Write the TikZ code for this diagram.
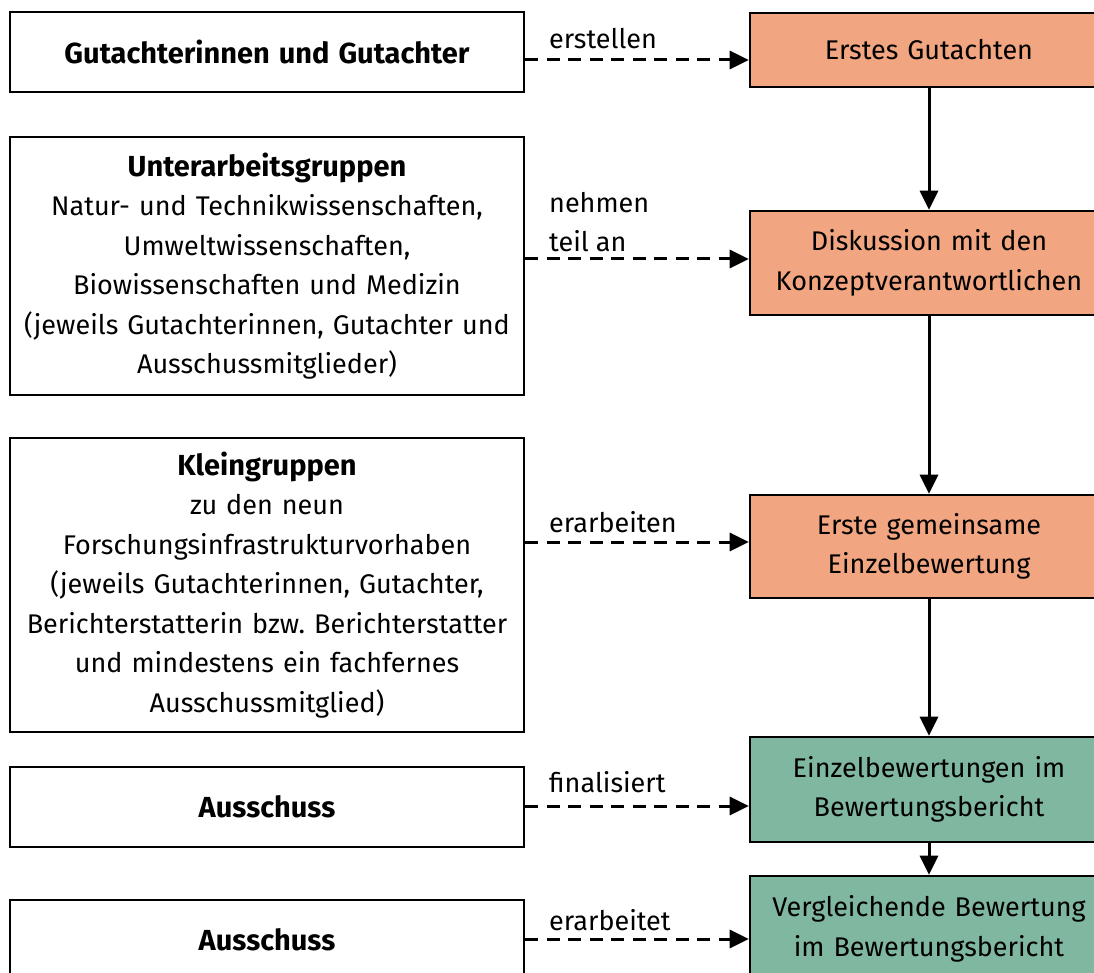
\documentclass[tikz,border=0pt]{standalone}
\usepackage{fontspec}
\setmainfont{Fira Sans}
\usetikzlibrary{arrows.meta}
\definecolor{orangebox}{HTML}{F1A580}
\definecolor{greenbox}{HTML}{80B7A0}
\newcommand{\titletext}[1]{{\fontsize{29}{39.5}\selectfont\bfseries #1}}
\tikzset{
  every node/.style={font=\fontsize{27}{39.5}\selectfont\frenchspacing},
  leftbox/.style={draw=black, line width=2.6pt, fill=white, rectangle, inner sep=0pt, minimum width=514pt, text width=510pt, align=center},
  rightbox/.style={draw=black, line width=2.6pt, rectangle, inner sep=0pt, minimum width=358pt, text width=354pt, align=center},
  orangestep/.style={rightbox, fill=orangebox},
  greenstep/.style={rightbox, fill=greenbox},
  lbl/.style={anchor=west, inner sep=0pt, align=left},
  dashconn/.style={line width=3pt, dash pattern=on 13pt off 8.5pt, -{Triangle[length=19pt,width=18pt]}},
  flowconn/.style={line width=3pt, -{Triangle[length=19pt,width=18pt]}}
}
\begin{document}
\begin{tikzpicture}[x=1pt,y=-1pt]
\useasboundingbox (0,0) rectangle (1094,973);
\clip (0,0) rectangle (1094,973);
\fill[white] (0,0) rectangle (1094,973);

% left boxes
\node[leftbox, minimum height=80pt] (L1) at (267,52) {\titletext{Gutachterinnen und Gutachter}};
\node[leftbox, minimum height=258pt] (L2) at (267,266) {\titletext{Unterarbeitsgruppen}\\Natur- und Technikwissenschaften,\\Umweltwissenschaften,\\Biowissenschaften und Medizin\\(jeweils Gutachterinnen, Gutachter und\\Ausschussmitglieder)};
\node[leftbox, minimum height=294pt] (L3) at (267,585) {\titletext{Kleingruppen}\\zu den neun\\Forschungsinfrastrukturvorhaben\\(jeweils Gutachterinnen, Gutachter,\\Berichterstatterin bzw. Berichterstatter\\und mindestens ein fachfernes\\Ausschussmitglied)};
\node[leftbox, minimum height=80pt] (L4) at (267,807) {\titletext{Ausschuss}};
\node[leftbox, minimum height=80pt] (L5) at (267,940) {\titletext{Ausschuss}};

% right boxes
\node[orangestep, minimum height=74pt] (R1) at (929,50) {Erstes Gutachten};
\node[orangestep, minimum height=104pt] (R2) at (929,263) {Diskussion mit den\\Konzeptverantwortlichen};
\node[orangestep, minimum height=103pt] (R3) at (929,546.5) {Erste gemeinsame\\Einzelbewertung};
\node[greenstep, minimum height=105pt] (R4) at (929,789.5) {Einzelbewertungen im\\Bewertungsbericht};
\node[greenstep, minimum height=106pt] (R5) at (929,929) {Vergleichende Bewertung\\im Bewertungsbericht};

% vertical flow
\draw[flowconn] (R1.south) -- (R2.north);
\draw[flowconn] (R2.south) -- (R3.north);
\draw[flowconn] (R3.south) -- (R4.north);
\draw[flowconn] (R4.south) -- (R5.north);

% dashed connectors
\draw[dashconn] (L1.east |- 0,60) -- (R1.west |- 0,60);
\draw[dashconn] (L2.east |- 0,259) -- (R2.west |- 0,259);
\draw[dashconn] (L3.east |- 0,542) -- (R3.west |- 0,542);
\draw[dashconn] (L4.east |- 0,806) -- (R4.west |- 0,806);
\draw[dashconn] (L5.east |- 0,939) -- (R5.west |- 0,939);

% labels
\node[lbl] (t1) at (549,39) {erstellen};
\node[lbl] (t2) at (549,222) {nehmen\\teil an};
\node[lbl] (t3) at (549,522) {erarbeiten};
\node[lbl] (t4) at (549,782) {finalisiert};
\node[lbl] (t5) at (549,920) {erarbeitet};
\end{tikzpicture}
\end{document}
